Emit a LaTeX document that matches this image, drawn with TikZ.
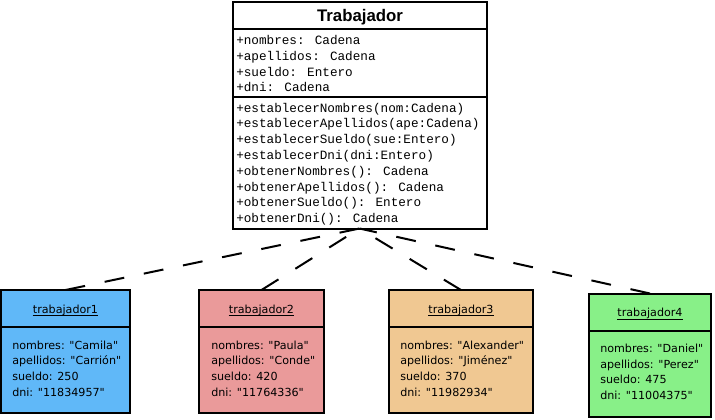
\documentclass[tikz,border=0pt]{standalone}
\usepackage{fontspec}
\setmainfont{DejaVu Sans}[Ligatures=TeXOff]
\newfontfamily\monofont{Liberation Mono}[Ligatures=TeXOff]
\newfontfamily\headfont{Liberation Sans}
\definecolor{objblue}{RGB}{96,184,248}
\definecolor{objred}{RGB}{234,154,154}
\definecolor{objtan}{RGB}{240,200,146}
\definecolor{objgreen}{RGB}{136,240,136}
\begin{document}
\begin{tikzpicture}[x=0.75pt,y=-0.75pt,
  box/.style={draw=black, line width=1.5pt, rectangle, inner sep=0pt, outer sep=0pt},
  divider/.style={draw=black, line width=1.5pt},
  conn/.style={draw=black, line width=1.5pt, dash pattern=on 15pt off 15pt},
  member/.style={anchor=base west, inner sep=0pt, font=\monofont\fontsize{9.5}{12}\selectfont},
  field/.style={anchor=base west, inner sep=0pt, font=\fontsize{8.35}{10}\selectfont},
  objname/.style={anchor=base, inner sep=0pt, font=\fontsize{8.35}{10}\selectfont},
  uline/.style={draw=black, line width=0.75pt},
]
\useasboundingbox (0,0) rectangle (715,419);
\fill[white] (0,0) rectangle (715,419);

% class Trabajador
\node[box, fill=white, minimum width=190.5pt, minimum height=170.25pt] (trab) at (359.5,115) {};
\draw[divider] (232.5,29) -- (486.5,29);
\draw[divider] (232.5,97) -- (486.5,97);
\node[anchor=base, inner sep=0pt, font=\headfont\bfseries\fontsize{12.6}{14}\selectfont] (ttl) at (360,21) {Trabajador};
\node[member] (a1) at (236,44.5) {+nombres: Cadena};
\node[member] (a2) at (236,60.3) {+apellidos: Cadena};
\node[member] (a3) at (236,76.1) {+sueldo: Entero};
\node[member] (a4) at (236,91.9) {+dni: Cadena};
\node[member] (m1) at (236,112) {+establecerNombres(nom:Cadena)};
\node[member] (m2) at (236,127.8) {+establecerApellidos(ape:Cadena)};
\node[member] (m3) at (236,143.6) {+establecerSueldo(sue:Entero)};
\node[member] (m4) at (236,159.4) {+establecerDni(dni:Entero)};
\node[member] (m5) at (236,175.2) {+obtenerNombres(): Cadena};
\node[member] (m6) at (236,191) {+obtenerApellidos(): Cadena};
\node[member] (m7) at (236,206.8) {+obtenerSueldo(): Entero};
\node[member] (m8) at (236,222.6) {+obtenerDni(): Cadena};

% object trabajador1
\node[box, fill=objblue, minimum width=96.75pt, minimum height=92.25pt] (t1) at (65.5,351.5) {};
\draw[divider] (1,327) -- (130,327);
\node[objname] (n1) at (65.5,313) {trabajador1};
\draw[uline] ([yshift=-2.2pt]n1.base west) -- ([yshift=-2.2pt]n1.base east);
\node[field] (f11) at (12,349) {nombres: "Camila"};
\node[field] (f12) at (12,364.7) {apellidos: "Carrión"};
\node[field] (f13) at (12,380.4) {sueldo: 250};
\node[field] (f14) at (12,396) {dni: "11834957"};

% object trabajador2
\node[box, fill=objred, minimum width=93.75pt, minimum height=92.25pt] (t2) at (261.5,351.5) {};
\draw[divider] (199,327) -- (324,327);
\node[objname] (n2) at (261.5,313) {trabajador2};
\draw[uline] ([yshift=-2.2pt]n2.base west) -- ([yshift=-2.2pt]n2.base east);
\node[field] (f21) at (211,349) {nombres: "Paula"};
\node[field] (f22) at (211,364.7) {apellidos: "Conde"};
\node[field] (f23) at (211,380.4) {sueldo: 420};
\node[field] (f24) at (211,396) {dni: "11764336"};

% object trabajador3
\node[box, fill=objtan, minimum width=108pt, minimum height=92.25pt] (t3) at (461,351.5) {};
\draw[divider] (389,327) -- (533,327);
\node[objname] (n3) at (461,313) {trabajador3};
\draw[uline] ([yshift=-2.2pt]n3.base west) -- ([yshift=-2.2pt]n3.base east);
\node[field] (f31) at (400,349) {nombres: "Alexander"};
\node[field] (f32) at (400,364.7) {apellidos: "Jiménez"};
\node[field] (f33) at (400,380.4) {sueldo: 370};
\node[field] (f34) at (400,396) {dni: "11982934"};

% object trabajador4
\node[box, fill=objgreen, minimum width=91.5pt, minimum height=92.25pt] (t4) at (650,355) {};
\draw[divider] (589,330.5) -- (711,330.5);
\node[objname] (n4) at (650,316.5) {trabajador4};
\draw[uline] ([yshift=-2.2pt]n4.base west) -- ([yshift=-2.2pt]n4.base east);
\node[field] (f41) at (600,352.5) {nombres: "Daniel"};
\node[field] (f42) at (600,368.2) {apellidos: "Perez"};
\node[field] (f43) at (600,383.9) {sueldo: 475};
\node[field] (f44) at (600,399.5) {dni: "11004375"};

% instance-of links
\draw[conn] (t1.north) -- (trab.south);
\draw[conn] (t2.north) -- (trab.south);
\draw[conn] (t3.north) -- (trab.south);
\draw[conn] (t4.north) -- (trab.south);
\end{tikzpicture}
\end{document}
